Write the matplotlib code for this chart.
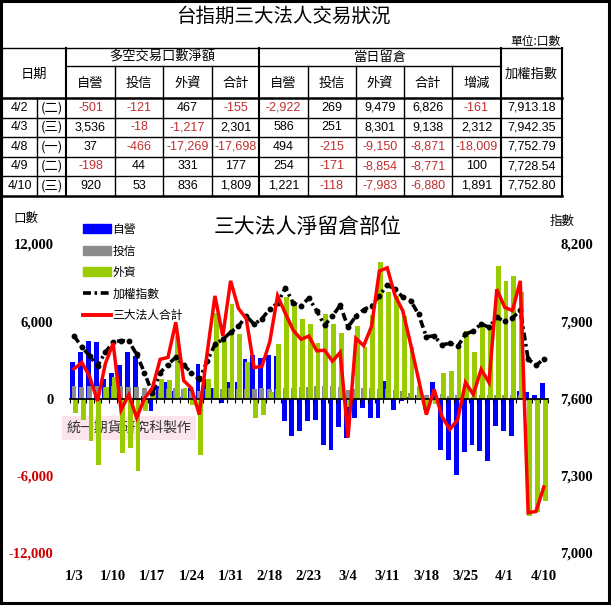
import matplotlib.pyplot as plt
from matplotlib.patches import Rectangle, Patch
from matplotlib.lines import Line2D
import numpy as np

plt.rcParams['font.family'] = ['Noto Sans CJK TC', 'DejaVu Sans']

# ---- table data (from the top block) ----
tbl_dates = ['4/2', '4/3', '4/8', '4/9', '4/10']
tbl_wday = ['(二)', '(三)', '(一)', '(二)', '(三)']
net_dealer = [-501, 3536, 37, -198, 920]
net_trust = [-121, -18, -466, 44, 53]
net_foreign = [467, -1217, -17269, 331, 836]
net_total = [-155, 2301, -17698, 177, 1809]
oi_dealer = [-2922, 586, 494, 254, 1221]
oi_trust = [269, 251, -215, -171, -118]
oi_foreign = [9479, 8301, -9150, -8854, -7983]
oi_total = [6826, 9138, -8871, -8771, -6880]
oi_change = [-161, 2312, -18009, 100, 1891]
tbl_index = [7913.18, 7942.35, 7752.79, 7728.54, 7752.80]

# ---- chart data (open interest per institution, 2013/1/3 - 4/10) ----
dates = ['1/3', '1/4', '1/7', '1/8', '1/9', '1/10', '1/11', '1/14', '1/15', '1/16',
         '1/17', '1/18', '1/21', '1/22', '1/23', '1/24', '1/25', '1/28', '1/29', '1/30',
         '1/31', '2/1', '2/4', '2/5', '2/6', '2/18', '2/19', '2/20', '2/21', '2/22',
         '2/23', '2/25', '2/26', '2/27', '3/1', '3/4', '3/5', '3/6', '3/7', '3/8',
         '3/11', '3/12', '3/13', '3/14', '3/15', '3/18', '3/19', '3/20', '3/21', '3/22',
         '3/25', '3/26', '3/27', '3/28', '3/29', '4/1', '4/2', '4/3', '4/8', '4/9', '4/10']
dealer = [2800, 3650, 4500, 4350, 1500, 2000, 2600, 3640, 3300, 200,
          -1000, 1000, 1300, 600, 100, 800, 2650, 1480, 800, -340,
          1300, 1300, 3040, 3400, 3150, 3400, 3300, -1770, -2900, -2540,
          -1770, -1640, -3580, -3970, -2200, -3040, -1480, -720, -1480, -1480,
          1350, -860, -200, 100, 300, -800, 1250, -3970, -4750, -5920,
          -4180, -3580, -4100, -4880, -2150, -2540, -2922, 586, 494, 254, 1221]
trust = [950, 900, 950, 950, 900, 950, 950, 900, 900, 800,
         800, 700, 750, 800, 750, 600, 600, 750, 800, 750,
         800, 750, 700, 750, 800, 700, 750, 800, 850, 900,
         900, 1000, 950, 1000, 900, 650, 700, 800, 800, 750,
         700, 650, 600, 400, 300, 250, -150, 350, 200, 300,
         200, 150, 300, 300, 300, 300, 269, 251, -215, -171, -118]
foreign = [-1100, -1640, -3300, -5140, 900, 1700, -4230, -3840, -5660, -1000,
           1000, 1500, 1400, 4850, 850, -470, -4360, 1480, 6670, 4460,
           7320, 5000, 2800, -1480, -1250, 500, 4200, 7870, 7200, 6150,
           5760, 4340, 6540, 5760, 5120, -650, 5610, 3970, 6500, 10620,
           8260, 8000, 6410, 4000, 1000, -700, -400, 2000, 2130, 3820,
           5240, 3610, 5630, 5400, 10300, 9140, 9479, 8301, -9150, -8854, -7983]
total = [2300, 2800, 1700, -200, 2700, 4300, -900, 300, -1500, 0,
         800, 3040, 3190, 5920, 1400, 800, -1250, 3500, 7970, 4850,
         9140, 7000, 6200, 2400, 2500, 4400, 7970, 6600, 5300, 4600,
         4850, 3700, 3750, 2900, 3580, -3040, 4670, 4100, 5600, 9900,
         10150, 8000, 6800, 4200, 1500, -1250, 700, -1400, -2400, -1640,
         1250, 310, 2260, 1250, 8490, 7090, 6826, 9138, -8871, -8771, -6880]
taiex = [7843, 7800, 7765, 7726, 7780, 7818, 7825, 7823, 7771, 7700,
         7620, 7700, 7732, 7760, 7730, 7700, 7674, 7745, 7810, 7830,
         7857, 7880, 7921, 7888, 7910, 7947, 7970, 8030, 7970, 7960,
         7990, 7940, 7884, 7920, 7962, 7877, 7920, 7945, 7960, 8000,
         8040, 8025, 7993, 7980, 7927, 7840, 7843, 7808, 7815, 7802,
         7850, 7862, 7890, 7877, 7915, 7900, 7913.18, 7942.35, 7752.79, 7728.54, 7752.80]

W, H = 611, 606
NEG = '#c03030'
num_font = 'Liberation Sans'
axis_font = dict(family='Liberation Serif', weight='bold', size=10.5)

fig = plt.figure(figsize=(W / 100, H / 100), dpi=100)
bg = fig.add_axes([0, 0, 1, 1])
bg.set_xlim(0, W)
bg.set_ylim(H, 0)
bg.axis('off')

# outer frame
bg.add_patch(Rectangle((1, 1), W - 3.5, H - 4, fill=False, lw=2.2, ec='black'))

# ---- titles ----
bg.text(283, 16, '台指期三大法人交易狀況', ha='center', va='center', fontsize=14)
bg.text(561, 41, '單位:口數', ha='right', va='center', fontsize=8.5)

# ---- table ----
cols = [2, 37, 66, 115, 163, 212, 259, 308, 356, 404, 452, 501, 562]
top, mid, hbot = 48, 66, 98
rh = 19.5
rows = [hbot + k * rh for k in range(6)]
lk = dict(color='black', lw=1.0)

bg.plot([cols[0], cols[-1]], [top, top], **lk)
bg.plot([cols[2], cols[11]], [mid, mid], **lk)
for k, y in enumerate(rows):
    bg.plot([cols[0], cols[-1]], [y, y], color='black', lw=1.8 if k in (0, 5) else 1.0)
for c in [cols[0], cols[2], cols[6], cols[11], cols[12]]:
    bg.plot([c, c], [top, rows[-1]], color='black', lw=1.5)
for c in cols[3:6] + cols[7:11]:
    bg.plot([c, c], [mid, rows[-1]], **lk)
bg.plot([cols[1], cols[1]], [hbot, rows[-1]], **lk)

bg.text((cols[0] + cols[2]) / 2, 74, '日期', ha='center', va='center', fontsize=9.5)
bg.text((cols[11] + cols[12]) / 2, 74, '加權指數', ha='center', va='center', fontsize=9.5)
bg.text((cols[2] + cols[6]) / 2, 57, '多空交易口數淨額', ha='center', va='center', fontsize=9.5)
bg.text((cols[6] + cols[11]) / 2, 57, '當日留倉', ha='center', va='center', fontsize=9.5)
sub_heads = ['自營', '投信', '外資', '合計', '自營', '投信', '外資', '合計', '增減']
for j, s in enumerate(sub_heads):
    bg.text((cols[j + 2] + cols[j + 3]) / 2, 83, s, ha='center', va='center', fontsize=9.5)

table_cols = [net_dealer, net_trust, net_foreign, net_total,
              oi_dealer, oi_trust, oi_foreign, oi_total, oi_change]
for r in range(5):
    yc = (rows[r] + rows[r + 1]) / 2
    bg.text((cols[0] + cols[1]) / 2, yc, tbl_dates[r], ha='center', va='center',
            fontsize=9, family=num_font)
    bg.text((cols[1] + cols[2]) / 2, yc, tbl_wday[r], ha='center', va='center', fontsize=9.5)
    for j, col in enumerate(table_cols):
        v = col[r]
        bg.text((cols[j + 2] + cols[j + 3]) / 2, yc, f'{v:,}', ha='center', va='center',
                fontsize=9, family=num_font, color=NEG if v < 0 else 'black')
    bg.text((cols[11] + cols[12]) / 2, yc, f'{tbl_index[r]:,.2f}', ha='center', va='center',
            fontsize=9, family=num_font)

# ---- chart ----
bg.text(26, 218, '口數', ha='center', va='center', fontsize=9)
bg.text(562, 221, '指數', ha='center', va='center', fontsize=9)
bg.text(308, 227, '三大法人淨留倉部位', ha='center', va='center', fontsize=15, weight='light')

# watermark box
bg.add_patch(Rectangle((62, 416), 134, 24, fc='#fbe4ec', ec='none'))
bg.text(129, 428, '統一期貨研究科製作', ha='center', va='center', fontsize=10, color='#333333')

x = np.arange(len(dates))
ax = fig.add_axes([70.1 / W, (H - 553) / H, 477.6 / W, 309 / H])
ax.set_facecolor('none')
ax.set_xlim(-0.5, len(dates) - 0.5)
ax.set_ylim(-12000, 12000)
bw = 0.62
ax.bar(x - 0.17, dealer, bw, color='#0000ff', zorder=1)
ax.bar(x, trust, bw, color='#8c8c8c', zorder=1.1)
ax.bar(x + 0.17, foreign, bw, color='#99cc00', zorder=1.2)

for s in ['left', 'right', 'bottom']:
    ax.spines[s].set_visible(False)
ax.spines['top'].set_position(('data', 0))
ax.spines['top'].set_linewidth(1.3)
ax.set_xticks(np.arange(-0.5, len(dates), 1), minor=True)
ax.set_xticks(x[::5])
ax.set_xticklabels(dates[::5], fontdict=axis_font)
ax.tick_params(axis='x', which='minor', top=True, bottom=False, direction='in', length=3, width=0.8)
ax.tick_params(axis='x', which='major', top=False, bottom=True, length=0, pad=12)

yt = [-12000, -6000, 0, 6000, 12000]
ax.set_yticks(yt)
ax.set_yticklabels([f'{v:,}' for v in yt], fontdict=axis_font)
for lab, v in zip(ax.get_yticklabels(), yt):
    lab.set_color('#cc0000' if v < 0 else 'black')
ax.tick_params(axis='y', length=0, pad=12)

ax2 = ax.twinx()
ax2.set_ylim(7000, 8200)
for s in ax2.spines.values():
    s.set_visible(False)
rt = [7000, 7300, 7600, 7900, 8200]
ax2.set_yticks(rt)
ax2.set_yticklabels([f'{v:,}' for v in rt], fontdict=axis_font)
ax2.tick_params(axis='y', length=0, pad=9)
idx_style = dict(color='black', lw=2.6, ls=(0, (2.2, 1.0, 0.7, 1.0)),
                 marker='o', ms=3.2, mfc='black', mec='black')
ax2.plot(x, taiex, **idx_style)

ax3 = ax.twinx()
ax3.set_ylim(-12000, 12000)
ax3.axis('off')
ax3.plot(x, total, color='#ff0000', lw=2.5, solid_joinstyle='miter')

handles = [Patch(color='#0000ff'), Patch(color='#8c8c8c'), Patch(color='#99cc00'),
           Line2D([], [], color='black', lw=2.6, ls=(0, (2.2, 1.0, 0.7, 1.0))),
           Line2D([], [], color='#ff0000', lw=2.8)]
labels = ['自營', '投信', '外資', '加權指數', '三大法人合計']
fig.legend(handles, labels, loc='upper left', bbox_to_anchor=(83 / W, 1 - 223 / H),
           frameon=False, fontsize=8.5, handlelength=2.4, handleheight=0.8,
           handletextpad=0.1, labelspacing=0.72, borderpad=0, borderaxespad=0)

fig.savefig('out.png', dpi=100)
